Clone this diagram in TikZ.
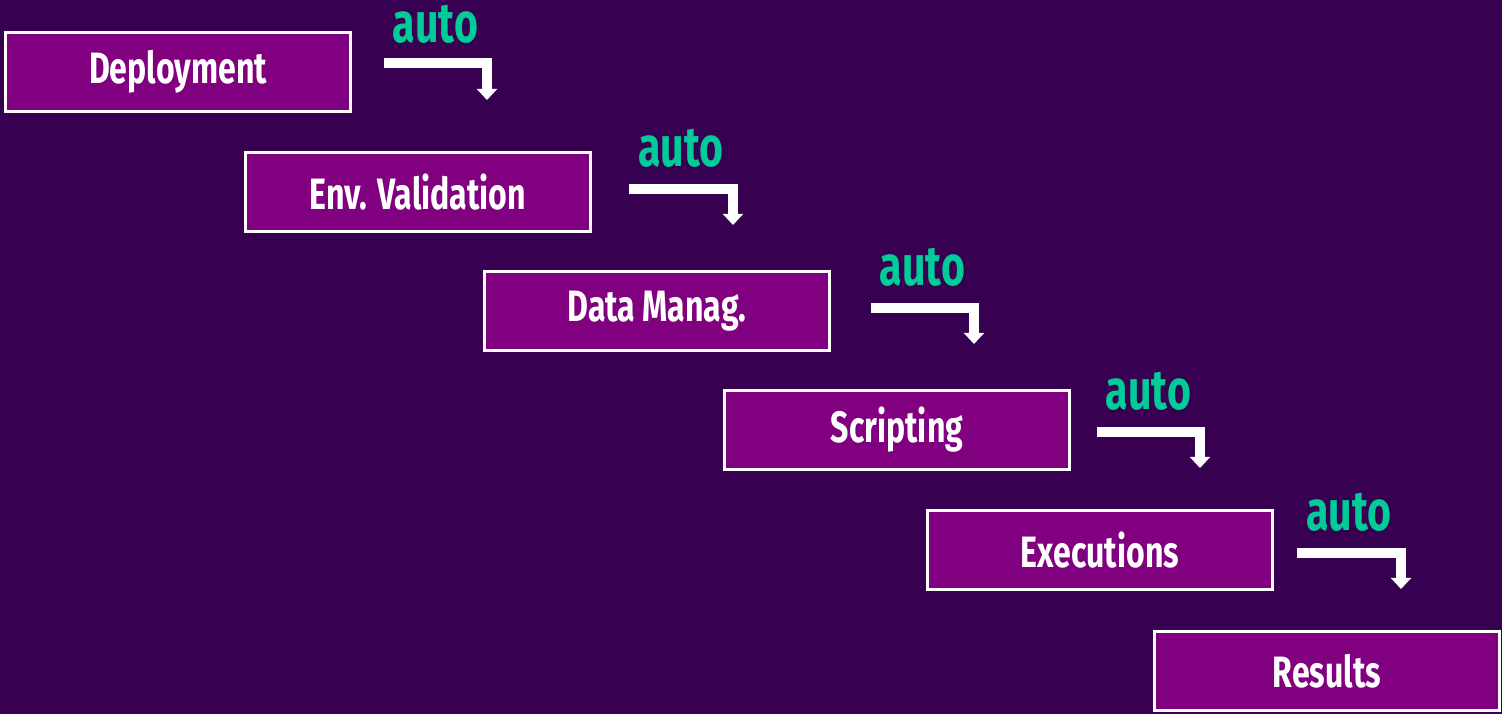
\documentclass[tikz,border=0pt]{standalone}
\usepackage{fontspec}
\setmainfont[FakeStretch=0.73]{Fira Sans}
\usetikzlibrary{arrows.meta}
\definecolor{bgpurple}{RGB}{55,0,80}
\definecolor{boxpurple}{RGB}{128,0,128}
\definecolor{autogreen}{RGB}{0,204,153}

\begin{document}
\begin{tikzpicture}[x=0.02cm, y=-0.02cm,
    stage/.style={draw=white, line width=1.7pt, fill=boxpurple, text=white,
      minimum width=6.9cm, minimum height=1.58cm, inner sep=0pt,
      font=\fontsize{25}{28}\selectfont\bfseries},
    flow/.style={draw=white, line width=5.6pt,
      -{Triangle[width=11.5pt,length=6.4pt]}},
    autolbl/.style={text=autogreen, inner sep=0pt,
      font=\fontsize{32}{36}\selectfont\bfseries}]
          \fill[bgpurple] (0,0) rectangle (1502,714);
          \useasboundingbox (0,0) rectangle (1502,714);
          \node[stage] (deploy) at (178, 72) {Deployment};
          \node[stage] (envval) at (418, 192) {Env. Validation};
          \node[stage] (datamgmt) at (657, 311) {Data Manag.};
          \node[stage] (script) at (897, 430) {Scripting};
          \node[stage] (exec) at (1100, 550) {Executions};
          \node[stage] (results) at (1327, 671) {Results};
          %
          \coordinate (a1s) at (384, 63);
          \coordinate (a1e) at (487, 100);
          \coordinate (a2s) at (629, 189);
          \coordinate (a2e) at (733, 225);
          \coordinate (a3s) at (871, 308);
          \coordinate (a3e) at (974, 344);
          \coordinate (a4s) at (1097, 432);
          \coordinate (a4e) at (1200, 468);
          \coordinate (a5s) at (1297, 553);
          \coordinate (a5e) at (1401, 589);
          %
          \draw[flow] (a1s) -| (a1e) node[autolbl, pos=0.25, above=0.3cm] (auto1) {auto};
          \draw[flow] (a2s) -| (a2e) node[autolbl, pos=0.25, above=0.34cm] (auto2) {auto};
          \draw[flow] (a3s) -| (a3e) node[autolbl, pos=0.25, above=0.34cm] (auto3) {auto};
          \draw[flow] (a4s) -| (a4e) node[autolbl, pos=0.25, above=0.34cm] (auto4) {auto};
          \draw[flow] (a5s) -| (a5e) node[autolbl, pos=0.25, above=0.34cm] (auto5) {auto};
        \end{tikzpicture}
\end{document}
